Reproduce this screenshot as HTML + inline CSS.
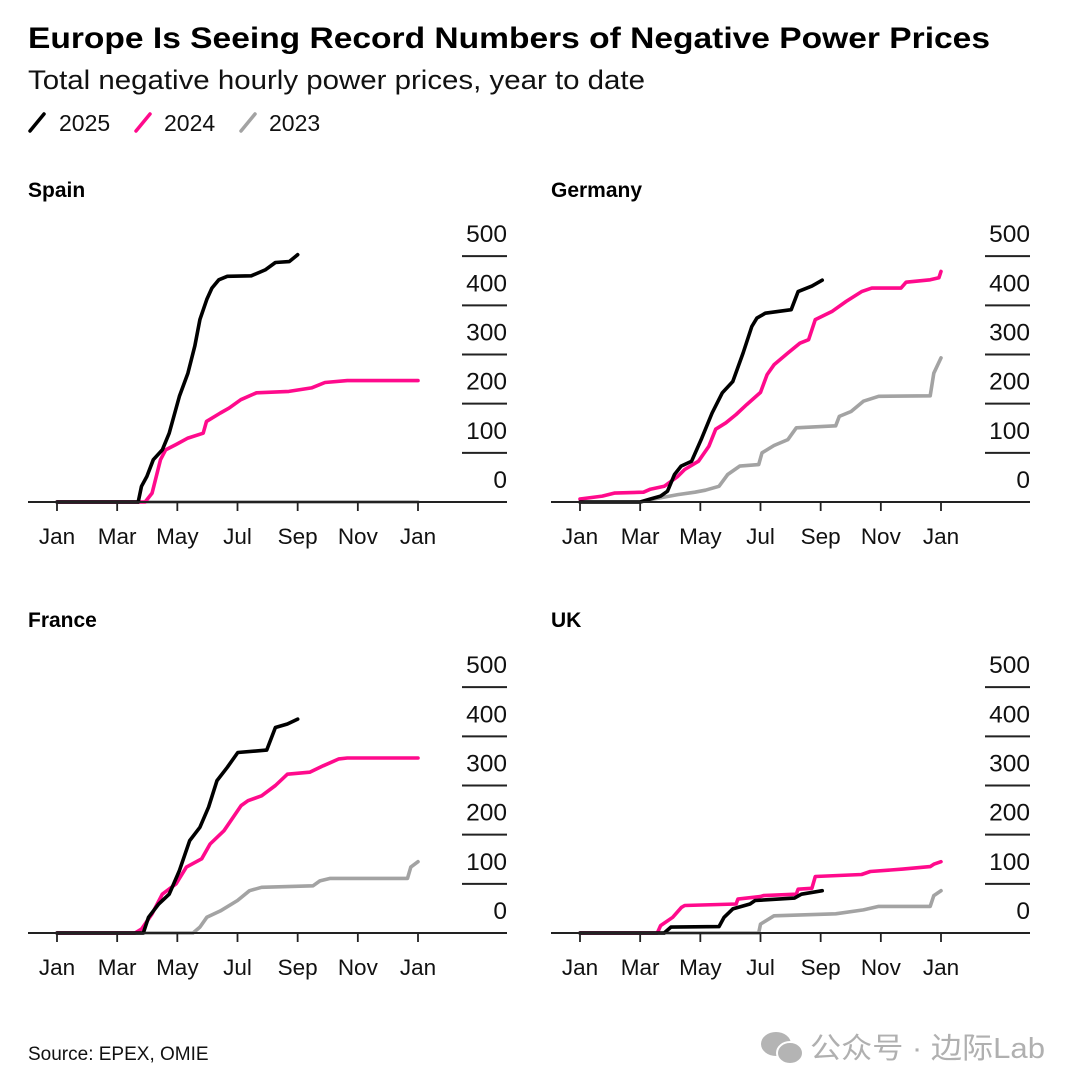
<!DOCTYPE html>
<html><head><meta charset="utf-8">
<style>
html,body{margin:0;padding:0;background:#fff;}
svg{display:block;font-family:"Liberation Sans","Noto Sans CJK SC",sans-serif;}
</style></head>
<body>
<svg id="chart" width="1080" height="1092" viewBox="0 0 1080 1092" xmlns="http://www.w3.org/2000/svg">
<rect width="1080" height="1092" fill="#fff"/>
<text x="28" y="48" font-size="30" font-weight="bold" fill="#000" textLength="962" lengthAdjust="spacingAndGlyphs">Europe Is Seeing Record Numbers of Negative Power Prices</text>
<text x="28" y="89" font-size="27" fill="#111" textLength="617" lengthAdjust="spacingAndGlyphs">Total negative hourly power prices, year to date</text>
<g>
  <g><line x1="30" y1="131" x2="44" y2="114" stroke="#000" stroke-width="3.5" stroke-linecap="round"/><text x="59" y="131" font-size="23" fill="#111">2025</text></g>
  <g><line x1="136" y1="131" x2="150" y2="114" stroke="#ff0a8c" stroke-width="3.5" stroke-linecap="round"/><text x="164" y="131" font-size="23" fill="#111">2024</text></g>
  <g><line x1="241" y1="131" x2="255" y2="114" stroke="#a3a3a3" stroke-width="3.5" stroke-linecap="round"/><text x="269" y="131" font-size="23" fill="#111">2023</text></g>
</g>
<g id="panels"></g>
<text x="28" y="1060" font-size="19" fill="#111">Source: EPEX, OMIE</text>
<g>
  <ellipse cx="776" cy="1044" rx="15" ry="12" fill="#b4b4b4"/>
  <ellipse cx="790" cy="1053" rx="13" ry="11" fill="#b4b4b4" stroke="#fff" stroke-width="2"/>
  <text x="810" y="1058" font-size="29" fill="#b0b0b0" textLength="235" lengthAdjust="spacingAndGlyphs" font-family="'Liberation Sans','Noto Sans CJK SC',sans-serif">公众号 · 边际Lab</text>
</g>
</svg>
<script>
// ---- data (month from Jan=0 to next Jan=12, cumulative hours) ----
const monthLabels = ["Jan","Mar","May","Jul","Sep","Nov","Jan"];
const yTicks = [0,100,200,300,400,500];
const seriesYears = ["2025","2024","2023"];

const spain2025M = [0,2.7,2.81,2.99,3.2,3.5,3.73,4.07,4.35,4.58,4.75,4.98,5.15,5.38,5.66,6.46,6.92,7.26,7.72,8.0];
const spain2025V = [0,0,32,52,86,106,140,215,262,317,371,412,435,452,459,460,472,487,489,503];
const spain2024M = [0,2.93,3.16,3.44,3.61,3.96,4.35,4.86,4.97,5.43,5.72,6.11,6.63,7.71,8.46,8.91,9.65,12];
const spain2024V = [0,0,18,86,106,117,130,140,164,181,191,208,222,225,232,243,247,247];
const spain2023M = [0,12];
const spain2023V = [0,0];

const germany2025M = [0,2.0,2.34,2.68,2.91,3.14,3.36,3.71,4.05,4.39,4.73,5.08,5.42,5.71,5.88,6.16,7.02,7.25,7.71,8.05];
const germany2025V = [0,0,6,12,22,56,73,83,130,181,222,245,303,357,374,384,391,428,439,451];
const germany2024M = [0,0.74,1.14,2.11,2.34,2.8,3.25,3.48,3.94,4.28,4.51,4.85,5.19,5.54,6.0,6.22,6.45,6.91,7.31,7.6,7.82,8.39,8.85,9.36,9.7,10.67,10.84,11.64,11.93,12];
const germany2024V = [6,12,18,20,26,32,52,66,83,113,148,161,178,198,223,259,279,303,323,330,371,388,408,428,435,435,447,452,456,469];
const germany2023M = [0,2.0,2.46,3.25,3.82,4.17,4.62,4.91,5.31,5.94,6.05,6.45,6.91,7.19,8.5,8.62,9.01,9.42,9.93,11.64,11.76,12];
const germany2023V = [0,0,6,15,20,24,32,56,73,76,100,115,127,151,155,174,184,205,215,216,262,293];

const france2025M = [0,2.87,3.04,3.38,3.73,4.07,4.41,4.75,5.04,5.32,5.66,6.01,6.97,7.26,7.66,8.0];
const france2025V = [0,0,32,59,79,127,188,215,256,310,337,367,372,418,425,435];
const france2024M = [0,2.59,2.81,3.16,3.5,3.96,4.3,4.81,5.09,5.55,6.12,6.35,6.8,7.26,7.66,8.4,8.85,9.37,9.65,12];
const france2024V = [0,0,8,39,79,100,134,151,181,208,259,269,279,300,323,327,340,354,356,356];
const france2023M = [0,4.52,4.75,4.98,5.43,6.0,6.4,6.8,8.51,8.74,9.08,11.65,11.76,12];
const france2023V = [0,0,12,32,45,66,86,93,96,106,111,111,134,145];

const uk2025M = [0,2.8,3.02,4.62,4.79,5.08,5.65,5.82,7.13,7.36,8.05];
const uk2025V = [0,0,12,13,32,49,59,66,71,79,86];
const uk2024M = [0,2.57,2.68,3.08,3.37,3.48,5.19,5.25,5.99,6.1,7.19,7.25,7.71,7.82,9.36,9.65,10.73,11.64,11.76,12];
const uk2024V = [0,0,15,32,52,56,59,69,74,76,79,89,91,115,119,125,130,135,140,145];
const uk2023M = [0,5.94,6.0,6.45,8.5,9.42,9.93,11.64,11.76,12];
const uk2023V = [0,0,18,35,39,47,54,54,76,86];

const panelNames = ["Spain","Germany","France","UK"];
const panelSeries = [
  [[spain2025M,spain2025V],[spain2024M,spain2024V],[spain2023M,spain2023V]],
  [[germany2025M,germany2025V],[germany2024M,germany2024V],[germany2023M,germany2023V]],
  [[france2025M,france2025V],[france2024M,france2024V],[france2023M,france2023V]],
  [[uk2025M,uk2025V],[uk2024M,uk2024V],[uk2023M,uk2023V]]
];

// ---- layout ----
const NS = "http://www.w3.org/2000/svg";
const colors = ["#000000","#ff0a8c","#a3a3a3"];
const layouts = [
  {ox:0, base:502, title:[28,197]},
  {ox:523, base:502, title:[551,197]},
  {ox:0, base:933, title:[28,627]},
  {ox:523, base:933, title:[551,627]}
];
function mk(tag, attrs, parent){
  const e = document.createElementNS(NS, tag);
  for (const k in attrs) e.setAttribute(k, attrs[k]);
  parent.appendChild(e);
  return e;
}
const root = document.getElementById("panels");
panelNames.forEach((name, pi) => {
  const L = layouts[pi];
  const x0 = 57 + L.ox, x1 = 418 + L.ox;
  const xs = m => x0 + (x1 - x0) * m / 12;
  const ys = v => L.base - v * 0.4917;
  const g = mk("g", {}, root);
  
  
  const t = mk("text", {x:L.title[0], y:L.title[1], "font-size":21, "font-weight":"bold", fill:"#000"}, g);
  t.textContent = name;
  
  
  const tickL = 462 + L.ox, tickR = 507 + L.ox;
  yTicks.forEach(v => {
    if (v > 0) {
      const ln = mk("line", {x1:tickL, x2:tickR, y1:ys(v), y2:ys(v), stroke:"#222", "stroke-width":2}, g);
      
      
    }
    const tx = mk("text", {x:tickR, y:ys(v) - 14, "font-size":24.5, fill:"#111", "text-anchor":"end"}, g);
    tx.textContent = v;
    
    
  });
  [2,1,0].forEach(si => {
    const [M, V] = panelSeries[pi][si];
    const pts = M.map((m, i) => xs(m).toFixed(1) + "," + ys(V[i]).toFixed(1)).join(" ");
    const pl = mk("polyline", {points:pts, fill:"none", stroke:colors[si], "stroke-width":3.6, "stroke-linejoin":"round", "stroke-linecap":"round"}, g);
    
    
  });
  const ax = mk("line", {x1:28 + L.ox, x2:tickR, y1:L.base, y2:L.base, stroke:"#222", "stroke-width":2}, g);
  
  
  monthLabels.forEach((lab, i) => {
    const x = xs(i * 2);
    const tk = mk("line", {x1:x, x2:x, y1:L.base, y2:L.base + 9, stroke:"#222", "stroke-width":1.8}, g);
    
    
    const tl = mk("text", {x:x, y:L.base + 42, "font-size":22.5, fill:"#111", "text-anchor":"middle"}, g);
    tl.textContent = lab;
    
    
  });
});
</script>
</body></html>
